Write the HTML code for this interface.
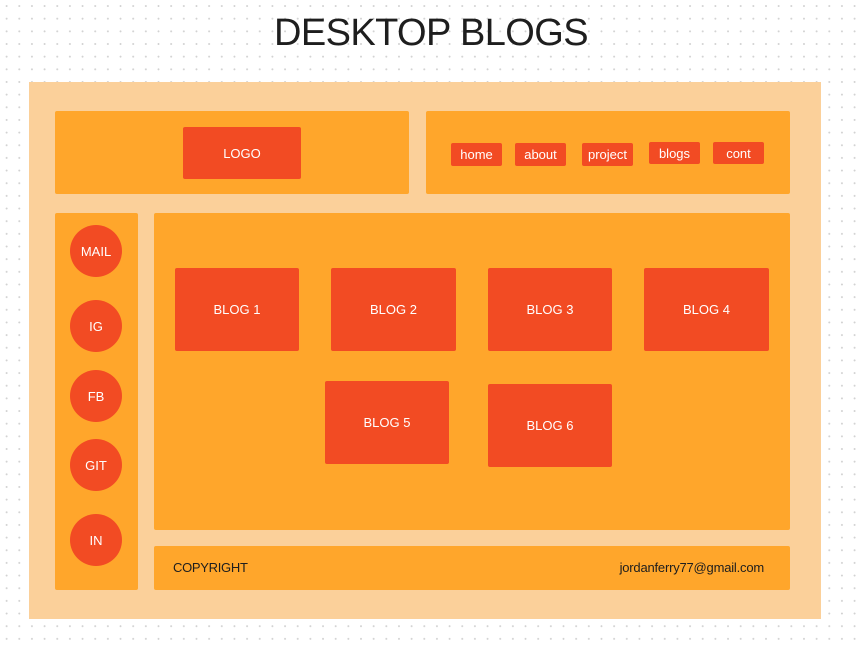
<!DOCTYPE html>
<html><head><style>
body{margin:0;width:862px;height:649px;position:relative;overflow:hidden;background:#fff;
background-image:radial-gradient(circle,#d2d2d2 0.8px,transparent 1.1px);background-size:12.67px 12.67px;background-position:0.3px -0.3px;
font-family:"Liberation Sans",sans-serif;}
div{position:absolute;box-sizing:border-box}
.t{left:0;width:862px;top:12px;text-align:center;font-size:38px;color:#1e1e1e;letter-spacing:-0.6px}
.o{background:#FBD09A}
.a{background:#FFA62B;border-radius:2px}
.r{background:#F24B23;color:#fff;display:flex;align-items:center;justify-content:center;font-size:13px;border-radius:2px}
.c{width:52px;height:52px;border-radius:50%;left:70px}
</style></head><body>
<div class="t">DESKTOP BLOGS</div>
<div class="o" style="left:29px;top:82px;width:792px;height:537px"></div>
<div class="a" style="left:55px;top:111px;width:354px;height:83px"></div>
<div class="r" style="left:183px;top:127px;width:118px;height:52px">LOGO</div>
<div class="a" style="left:426px;top:111px;width:364px;height:83px"></div>
<div class="r" style="left:451px;top:143px;width:51px;height:23px">home</div>
<div class="r" style="left:515px;top:143px;width:51px;height:23px">about</div>
<div class="r" style="left:582px;top:143px;width:51px;height:23px">project</div>
<div class="r" style="left:649px;top:142px;width:51px;height:22px">blogs</div>
<div class="r" style="left:713px;top:142px;width:51px;height:22px">cont</div>
<div class="a" style="left:55px;top:213px;width:83px;height:377px"></div>
<div class="r c" style="top:225px">MAIL</div>
<div class="r c" style="top:300px">IG</div>
<div class="r c" style="top:370px">FB</div>
<div class="r c" style="top:439px">GIT</div>
<div class="r c" style="top:514px">IN</div>
<div class="a" style="left:154px;top:213px;width:636px;height:317px"></div>
<div class="r" style="left:175px;top:268px;width:124px;height:83px">BLOG 1</div>
<div class="r" style="left:331px;top:268px;width:125px;height:83px">BLOG 2</div>
<div class="r" style="left:488px;top:268px;width:124px;height:83px">BLOG 3</div>
<div class="r" style="left:644px;top:268px;width:125px;height:83px">BLOG 4</div>
<div class="r" style="left:325px;top:381px;width:124px;height:83px">BLOG 5</div>
<div class="r" style="left:488px;top:384px;width:124px;height:83px">BLOG 6</div>
<div class="a" style="left:154px;top:546px;width:636px;height:44px"></div>
<div style="left:173px;top:560px;font-size:13px;color:#1e1e1e;letter-spacing:-0.3px">COPYRIGHT</div>
<div style="left:560px;width:204px;text-align:right;top:560px;font-size:13px;color:#1e1e1e;letter-spacing:-0.2px">jordanferry77@gmail.com</div>
</body></html>
